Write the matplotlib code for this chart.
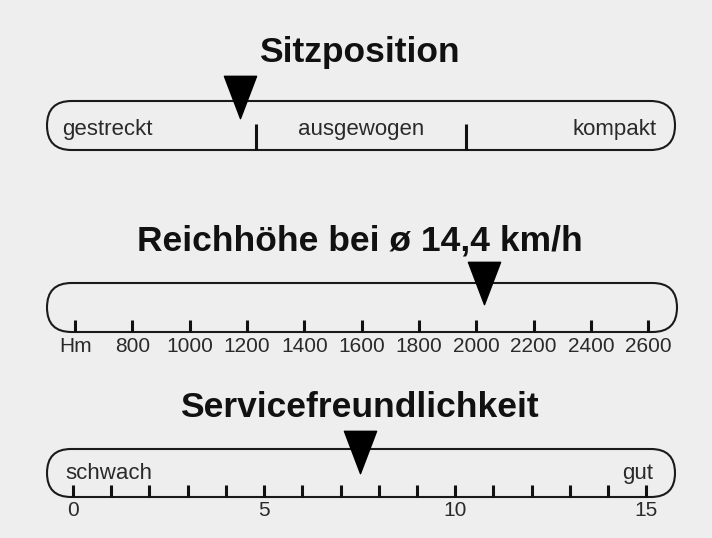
import matplotlib
matplotlib.use('Agg')
import matplotlib.pyplot as plt
from matplotlib.patches import FancyBboxPatch
from matplotlib.path import Path

# Daten
titles = ['Sitzposition', 'Reichhöhe bei ø 14,4 km/h', 'Servicefreundlichkeit']

sitz_ticks = [1, 2]
sitz_labels = ['gestreckt', 'ausgewogen', 'kompakt']
sitz_value = 0.92

reich_ticks = [600, 800, 1000, 1200, 1400, 1600, 1800, 2000, 2200, 2400, 2600]
reich_labels = ['Hm', '800', '1000', '1200', '1400', '1600', '1800', '2000', '2200', '2400', '2600']
reich_value = 2025

service_ticks = list(range(0, 16))
service_labels = [str(t) if t % 5 == 0 else '' for t in service_ticks]
service_ends = ['schwach', 'gut']
service_value = 7.5

W, H = 712, 538
bg = '#eeeeee'

plt.rcParams['font.family'] = ['Liberation Sans', 'DejaVu Sans']

fig = plt.figure(figsize=(W / 100, H / 100), dpi=100, facecolor=bg)

# Dreieck-Marker (Spitze nach unten)
tri = Path([(-0.38, 0.5), (0.38, 0.5), (0, -0.5), (-0.38, 0.5)],
           [Path.MOVETO, Path.LINETO, Path.LINETO, Path.CLOSEPOLY])


def make_bar(x0, x1, ytop, ybot, xlim):
    w, h = x1 - x0, ybot - ytop
    ax = fig.add_axes([x0 / W, 1 - ybot / H, w / W, h / H])
    ax.set_facecolor('none')
    ax.set_xlim(*xlim)
    ax.set_ylim(0, 1)
    for s in ax.spines.values():
        s.set_visible(False)
    ax.set_yticks([])
    box = FancyBboxPatch((0, 0), 1, 1, transform=ax.transAxes,
                         boxstyle='round,pad=0,rounding_size=%f' % (h / 2 / w),
                         mutation_aspect=w / h, fc='none', ec='#1a1a1a',
                         lw=1.5, clip_on=False)
    ax.add_patch(box)
    return ax


def title(text, baseline):
    fig.text(0.505, 1 - baseline / H, text, ha='center', va='baseline',
             fontsize=25.5, fontweight='bold', color='#111111')


def marker(ax, x, y):
    ax.plot([x], [y], marker=tri, markersize=30.5, color='black',
            linestyle='none', clip_on=False, zorder=5)


lab = dict(fontsize=16, color='#2a2a2a')

# 1) Sitzposition
title(titles[0], 62)
ax1 = make_bar(47, 675, 101, 150, (0, 3))
ax1.set_xticks(sitz_ticks)
ax1.set_xticklabels([])
ax1.tick_params(axis='x', direction='in', length=19, width=2.2, color='#111111')
ax1.text(0.07, 0.31, sitz_labels[0], ha='left', va='baseline', **lab)
ax1.text(1.5, 0.31, sitz_labels[1], ha='center', va='baseline', **lab)
ax1.text(2.91, 0.31, sitz_labels[2], ha='right', va='baseline', **lab)
marker(ax1, sitz_value, 1.08)

# 2) Reichhöhe
title(titles[1], 251)
ax2 = make_bar(47, 677, 283, 332, (502, 2700))
ax2.set_xticks(reich_ticks)
ax2.set_xticklabels(reich_labels)
ax2.tick_params(axis='x', direction='in', length=9, width=2.2, pad=3.5,
                labelsize=15, labelcolor='#2a2a2a', color='#111111')
marker(ax2, reich_value, 1.0)

# 3) Servicefreundlichkeit
title(titles[2], 417)
ax3 = make_bar(47, 675, 449, 497, (-0.68, 15.75))
ax3.set_xticks(service_ticks)
ax3.set_xticklabels(service_labels)
ax3.tick_params(axis='x', direction='in', length=9, width=2.2, pad=3,
                labelsize=15, labelcolor='#2a2a2a', color='#111111')
ax3.text(-0.2, 0.375, service_ends[0], ha='left', va='baseline', **lab)
ax3.text(15.18, 0.375, service_ends[1], ha='right', va='baseline', **lab)
marker(ax3, service_value, 0.93)

fig.savefig('out.png', dpi=100, facecolor=bg)
